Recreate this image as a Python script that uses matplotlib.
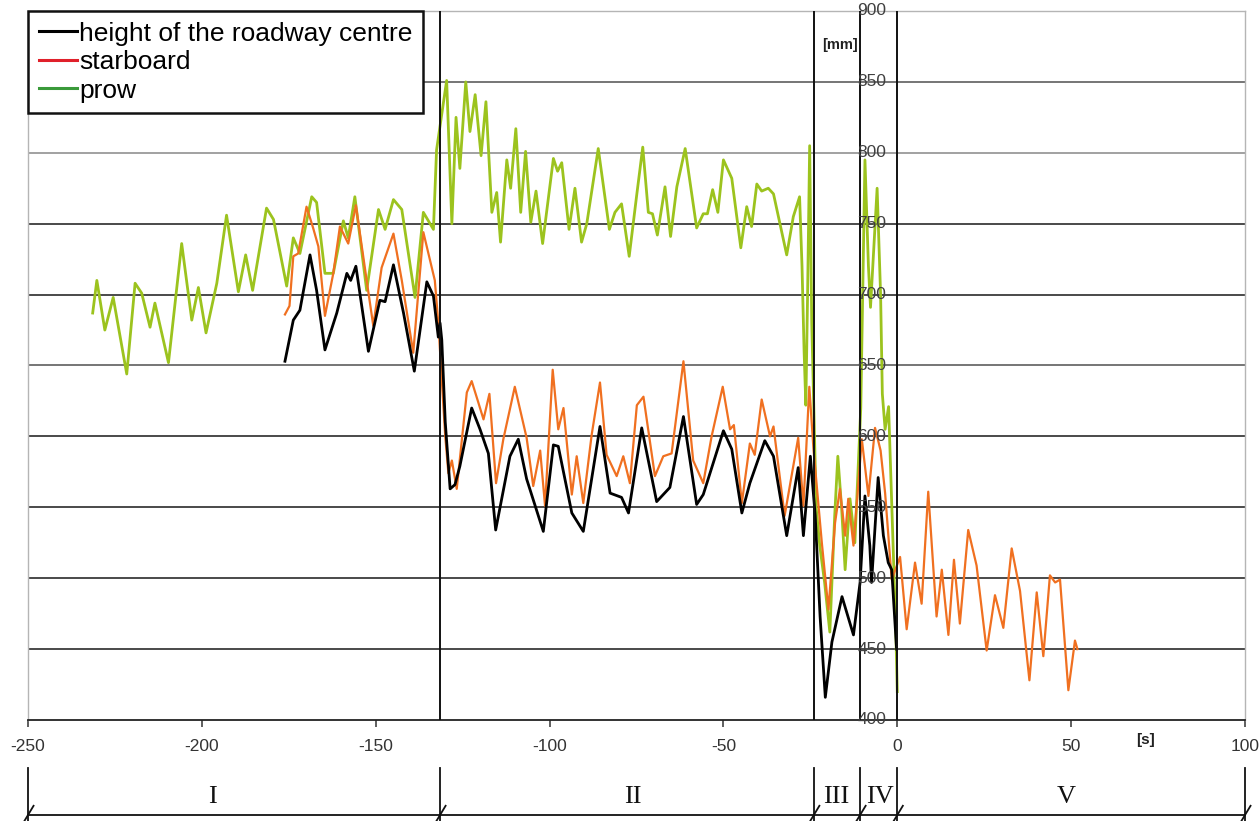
import matplotlib
matplotlib.use("Agg")
import matplotlib.pyplot as plt
from matplotlib.lines import Line2D
import matplotlib.transforms as mtransforms

# ---------------- data ----------------
prow_t = [-231.4, -230.2, -227.9, -225.5, -221.6, -219.2, -217.3, -214.9, -213.5, -209.6,
          -205.8, -202.9, -201.0, -198.8, -195.7, -192.9, -189.5, -187.4, -185.4, -181.4,
          -179.4, -175.6, -173.7, -171.8, -168.4, -167.0, -164.6, -162.2, -159.3, -157.9,
          -156.0, -152.6, -149.2, -147.3, -144.9, -142.5, -138.7, -136.3, -133.4, -132.5,
          -129.6, -128.1, -126.9, -125.8, -124.1, -122.9, -121.4, -119.7, -118.3, -116.6,
          -115.2, -114.1, -112.3, -111.2, -109.7, -108.3, -106.9, -105.4, -103.9, -102.0,
          -98.9, -97.7, -96.5, -94.4, -92.7, -90.8, -89.3, -86.0, -82.8, -81.2,
          -79.3, -77.1, -74.9, -73.2, -71.6, -70.4, -69.0, -66.8, -65.2, -63.4,
          -61.0, -57.7, -55.8, -54.6, -53.1, -51.6, -50.0, -47.6, -45.0, -43.3,
          -41.9, -40.4, -39.0, -37.1, -35.6, -31.8, -29.9, -28.1, -27.4, -26.8,
          -26.3, -25.8, -25.2, -24.6, -23.3, -22.3, -20.9, -19.4, -18.0, -17.1,
          -16.0, -15.0, -13.6, -12.2, -10.5, -9.3, -8.3, -7.7, -5.8, -4.8,
          -4.3, -3.5, -2.5, -1.3, -0.5, 0.0]
prow_v = [687, 710, 675, 698, 644, 708, 701, 677, 694, 652,
          736, 682, 705, 673, 708, 756, 702, 728, 703, 761,
          753, 706, 740, 729, 769, 765, 715, 715, 752, 740,
          769, 703, 760, 746, 767, 760, 698, 758, 746, 802,
          851, 750, 825, 789, 850, 815, 841, 798, 836, 758,
          772, 737, 795, 775, 817, 758, 801, 751, 773, 736,
          796, 787, 793, 746, 775, 737, 750, 803, 746, 758,
          764, 727, 771, 804, 758, 757, 742, 776, 741, 776,
          803, 747, 757, 757, 774, 758, 795, 782, 733, 762,
          748, 778, 773, 775, 771, 728, 755, 769, 720, 660,
          622, 700, 805, 680, 549, 523, 497, 462, 544, 586,
          549, 506, 556, 525, 620, 795, 720, 691, 775, 700,
          630, 605, 621, 530, 470, 420]

starboard_t = [-176.1, -174.8, -173.7, -172.3, -169.9, -168.0, -166.5, -164.6, -162.2, -160.3,
               -157.9, -155.7, -152.6, -150.7, -148.3, -144.9, -142.5, -139.2, -136.3, -133.0,
               -132.0, -131.0, -130.0, -129.1, -128.1, -126.7, -123.8, -122.4, -120.5, -119.0,
               -117.3, -115.4, -113.3, -110.0, -106.6, -104.7, -102.7, -101.3, -99.1, -97.5,
               -96.0, -93.6, -92.2, -90.3, -87.9, -85.5, -83.6, -80.7, -78.8, -76.9,
               -74.9, -73.0, -69.7, -67.3, -64.9, -61.5, -58.7, -55.8, -53.4, -50.2,
               -48.1, -47.0, -44.7, -42.4, -41.0, -39.0, -36.6, -35.6, -32.4, -28.5,
               -27.0, -25.3, -24.1, -21.7, -19.8, -17.9, -16.5, -15.0, -14.1, -12.6,
               -10.2, -8.3, -6.4, -4.8, -3.5, -1.6, 0.8, 2.7, 5.1, 7.0,
               8.9, 11.3, 12.8, 14.7, 16.3, 18.0, 20.4, 22.8, 25.7, 28.1,
               30.5, 32.9, 35.3, 38.0, 40.1, 42.0, 43.9, 45.4, 46.8, 49.2,
               51.1, 51.8]
starboard_v = [686, 692, 727, 729, 762, 747, 734, 685, 715, 748,
               736, 763, 710, 678, 719, 743, 710, 659, 744, 710,
               680, 640, 600, 574, 583, 563, 631, 639, 624, 612,
               630, 567, 598, 635, 599, 565, 590, 551, 647, 605,
               620, 559, 586, 553, 601, 638, 587, 572, 586, 567,
               622, 628, 572, 586, 588, 653, 583, 567, 600, 635,
               605, 608, 553, 595, 587, 626, 600, 607, 544, 599,
               551, 635, 591, 525, 478, 539, 563, 530, 556, 523,
               598, 558, 606, 590, 560, 499, 515, 464, 511, 482,
               561, 473, 506, 460, 513, 468, 534, 509, 449, 488,
               465, 521, 491, 428, 490, 445, 502, 497, 499, 421,
               456, 450]

centre_t = [-176.1, -173.7, -171.8, -168.9, -167.0, -164.6, -161.2, -158.3, -157.2, -155.7,
            -152.1, -148.8, -147.3, -144.9, -142.0, -138.9, -135.3, -133.4, -132.0, -131.5,
            -131.0, -130.0, -128.6, -127.2, -125.8, -122.4, -120.0, -117.6, -115.5, -111.4,
            -109.0, -106.6, -101.8, -98.9, -97.5, -93.6, -90.3, -85.5, -82.6, -79.3,
            -77.3, -73.5, -69.2, -65.4, -61.5, -57.7, -55.8, -50.0, -47.6, -44.7,
            -42.4, -38.1, -35.6, -31.8, -28.5, -27.0, -25.0, -23.6, -22.2, -20.7,
            -18.8, -15.9, -12.6, -10.7, -9.3, -7.9, -7.4, -5.5, -4.0, -2.6,
            -1.6, -0.2]
centre_v = [653, 682, 689, 728, 703, 661, 687, 715, 710, 720,
            660, 696, 695, 721, 687, 646, 709, 699, 670, 680,
            668, 610, 563, 566, 579, 620, 605, 588, 534, 586,
            598, 570, 533, 594, 593, 546, 533, 607, 560, 557,
            546, 606, 554, 564, 614, 552, 559, 604, 591, 546,
            567, 597, 586, 530, 578, 530, 586, 544, 473, 416,
            455, 487, 460, 497, 558, 523, 497, 571, 530, 511,
            506, 450]

series_names = ["height of the roadway centre", "starboard", "prow"]
x_ticks = [-250, -200, -150, -100, -50, 0, 50, 100]
y_ticks = [400, 450, 500, 550, 600, 650, 700, 750, 800, 850, 900]
phase_bounds = [-250, -131.5, -24, -10.7, 0, 100]
phase_names = ["I", "II", "III", "IV", "V"]
phase_label_t = [-197, -76, -17.5, -5, 48.5]

# ---------------- figure ----------------
fig = plt.figure(figsize=(12.6, 8.21), dpi=100)
ax = fig.add_axes([28 / 1260, 101 / 821, 1217 / 1260, 709 / 821])
ax.set_xlim(-250, 100)
ax.set_ylim(400, 900)

grid_colors = {450: "#3c3c3c", 500: "#3c3c3c", 550: "#3c3c3c", 600: "#3c3c3c",
               650: "#6a6a6a", 700: "#3c3c3c", 750: "#3c3c3c", 800: "#9a9a9a",
               850: "#6a6a6a"}
for yv in y_ticks[1:-1]:
    ax.axhline(yv, color=grid_colors.get(yv, "#3c3c3c"), lw=1.3, zorder=1)

# phase boundary lines
for b in phase_bounds[1:-1]:
    ax.axvline(b, color="#111111", lw=1.4, zorder=4)

# series
ax.plot(prow_t, prow_v, color="#9cc31e", lw=2.0, zorder=2, solid_joinstyle="round")
ax.plot(starboard_t, starboard_v, color="#f07020", lw=1.6, zorder=3, solid_joinstyle="round")
ax.plot(centre_t, centre_v, color="#000000", lw=2.0, zorder=3, solid_joinstyle="round")

# spines
for s in ["left", "right", "top"]:
    ax.spines[s].set_color("#b5b5b5")
    ax.spines[s].set_linewidth(1.0)
ax.spines["bottom"].set_color("#222222")
ax.spines["bottom"].set_linewidth(1.3)

ax.set_xticks(x_ticks)
ax.set_xticklabels([str(v) for v in x_ticks], fontsize=12.5, color="#333333",
                   family="Liberation Sans")
ax.tick_params(axis="x", direction="out", length=5, width=1.1, color="#333333", pad=9)
ax.set_yticks([])

# y tick labels at x = 0
ytrans = mtransforms.offset_copy(ax.transData, fig=fig, x=-11, y=0, units="dots")
for yv in y_ticks:
    ax.text(0, yv, str(yv), transform=ytrans, ha="right", va="center",
            fontsize=12.5, color="#404040", family="Liberation Sans", zorder=5,
            clip_on=False)

ax.text(0.667, 0.952, "[mm]", transform=ax.transAxes, ha="center", va="center",
        fontsize=10.5, fontweight="bold", color="#222222", family="Liberation Sans")
ax.text(0.918, -0.028, "[s]", transform=ax.transAxes, ha="center", va="center",
        fontsize=11, fontweight="bold", color="#222222", family="Liberation Sans")

# legend
handles = [Line2D([0], [0], color="#000000", lw=2.2),
           Line2D([0], [0], color="#e0202a", lw=2.2),
           Line2D([0], [0], color="#3a9a3a", lw=2.2)]
leg = ax.legend(handles, series_names, loc="upper left", bbox_to_anchor=(0, 1.0),
                prop={"family": "Liberation Sans", "size": 19}, frameon=True,
                fancybox=False, edgecolor="#111111", framealpha=1, handlelength=1.45,
                handletextpad=0.1, labelspacing=0.17, borderpad=0.4, borderaxespad=0)
leg.get_frame().set_linewidth(1.8)
leg.set_zorder(10)

# phase annotation below axis
btrans = mtransforms.blended_transform_factory(ax.transData, ax.transAxes)
y_top = -0.0677
y_line = -0.134
y_bot = -0.1425
ax.plot([phase_bounds[0], phase_bounds[-1]], [y_line, y_line], transform=btrans,
        color="#111111", lw=1.3, clip_on=False)
for b in phase_bounds:
    ax.plot([b, b], [y_top, y_bot], transform=btrans, color="#111111", lw=1.3,
            clip_on=False)
    ax.plot([b - 1.6, b + 1.6], [y_line - 0.013, y_line + 0.013], transform=btrans,
            color="#111111", lw=1.3, clip_on=False)
for name, t in zip(phase_names, phase_label_t):
    ax.text(t, -0.108, name, transform=btrans, ha="center", va="center",
            fontsize=19, family="Liberation Serif", color="#111111")

fig.savefig("out.png", dpi=100)
